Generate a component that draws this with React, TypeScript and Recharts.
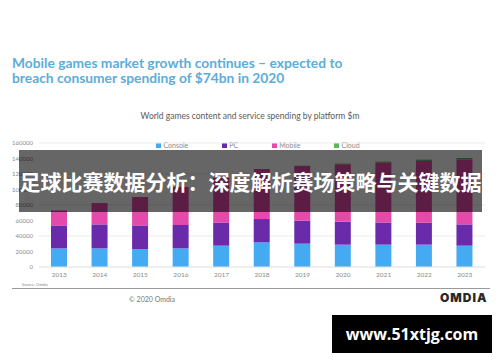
import React from 'react';
import { BarChart, Bar, XAxis, YAxis, CartesianGrid } from 'recharts';

const years = ['2013', '2014', '2015', '2016', '2017', '2018', '2019', '2020', '2021', '2022', '2023'];
const consoleSpend = [24000, 24000, 23200, 24000, 27500, 31700, 30100, 28800, 28800, 28800, 27500];
const pcSpend = [29700, 31000, 30500, 30200, 30000, 30200, 29600, 29600, 28700, 28400, 27500];
const mobileSpend = [19300, 27600, 36600, 49000, 57700, 64500, 70700, 74300, 77400, 79800, 83600];
const cloudSpend = [0, 0, 0, 0, 0, 0, 300, 600, 1000, 1500, 2000];
const yTicks = [0, 20000, 40000, 60000, 80000, 100000, 120000, 140000, 160000];

const seriesNames = ['Console', 'PC', 'Mobile', 'Cloud'];
const seriesColors = ['#44aaf2', '#6a2bab', '#e44aa9', '#5fb55a'];

const data = years.map((year, i) => ({
  year,
  Console: consoleSpend[i],
  PC: pcSpend[i],
  Mobile: mobileSpend[i],
  Cloud: cloudSpend[i],
}));

const App = () => {
  return (
    <div style={{ position: 'absolute', left: 0, top: 0, width: 500, height: 362, background: '#fff', fontFamily: 'Lato, "Open Sans", sans-serif', overflow: 'hidden' }}>
      <div style={{ position: 'absolute', left: 12, top: 55, fontSize: 13.8, fontWeight: 700, lineHeight: '15px', color: '#5eacd8', whiteSpace: 'nowrap' }}>
        <div>Mobile games market growth continues – expected to</div>
        <div>breach consumer spending of $74bn in 2020</div>
      </div>
      <div style={{ position: 'absolute', left: 0, width: 500, top: 111, textAlign: 'center', fontSize: 8.5, color: '#5a5a5a' }}>
        World games content and service spending by platform $m
      </div>

      <div style={{ position: 'absolute', left: 0, width: 500, top: 141, display: 'flex', justifyContent: 'center', gap: 34, paddingLeft: 8 }}>
        {seriesNames.map((name, i) => (
          <div key={name} style={{ display: 'flex', alignItems: 'center', fontSize: 7, color: '#8a8a8a' }}>
            <span style={{ width: 5, height: 5, background: seriesColors[i], display: 'inline-block', marginRight: 2 }} />
            {name}
          </div>
        ))}
      </div>

      <div style={{ position: 'absolute', left: 0, top: 0 }}>
        <BarChart width={500} height={290} data={data} margin={{ top: 143, right: 15, bottom: 11, left: 9 }}>
          <CartesianGrid vertical={false} stroke="#ebebeb" />
          <XAxis dataKey="year" height={12} axisLine={{ stroke: '#e6e6e6' }} tickLine={false} tickSize={3}
            tick={{ fontSize: 6.5, fill: '#8a8a8a' }} interval={0} />
          <YAxis width={30} domain={[0, 160000]} ticks={yTicks} axisLine={false} tickLine={false} tickSize={4}
            tick={{ fontSize: 6, fill: '#8a8a8a' }} />
          {seriesNames.map((name, i) => (
            <Bar key={name} dataKey={name} stackId="a" fill={seriesColors[i]} barSize={16} isAnimationActive={false} />
          ))}
        </BarChart>
      </div>

      <div style={{ position: 'absolute', left: 22, top: 282, fontSize: 4, color: '#888' }}>Source: Omdia</div>
      <div style={{ position: 'absolute', left: 12, top: 288, width: 478, height: 1, background: '#9a9a9a' }} />
      <div style={{ position: 'absolute', left: 129, top: 295, fontSize: 7, color: '#777' }}>© 2020 Omdia</div>
      <div style={{ position: 'absolute', left: 440, top: 290, fontSize: 12, fontWeight: 900, color: '#2a2a2a', letterSpacing: 1, fontFamily: 'Inter, sans-serif' }}>OMDIA</div>

      <div style={{ position: 'absolute', left: 19, top: 150, width: 463, height: 62, background: 'rgba(0,0,0,0.6)', display: 'flex', alignItems: 'center', justifyContent: 'center', overflow: 'hidden' }}>
        <span style={{ color: '#fff', fontSize: 21, fontWeight: 700, fontFamily: '"Noto Sans CJK SC", sans-serif', whiteSpace: 'nowrap' }}>
          足球比赛数据分析：深度解析赛场策略与关键数据
        </span>
      </div>

      <div style={{ position: 'absolute', left: 332, top: 315, width: 160, height: 38, background: '#000', display: 'flex', alignItems: 'center', justifyContent: 'center' }}>
        <span style={{ color: '#fff', fontSize: 16, fontWeight: 700, fontFamily: '"Open Sans", sans-serif' }}>www.51xtjg.com</span>
      </div>
    </div>
  );
};

export default App;
